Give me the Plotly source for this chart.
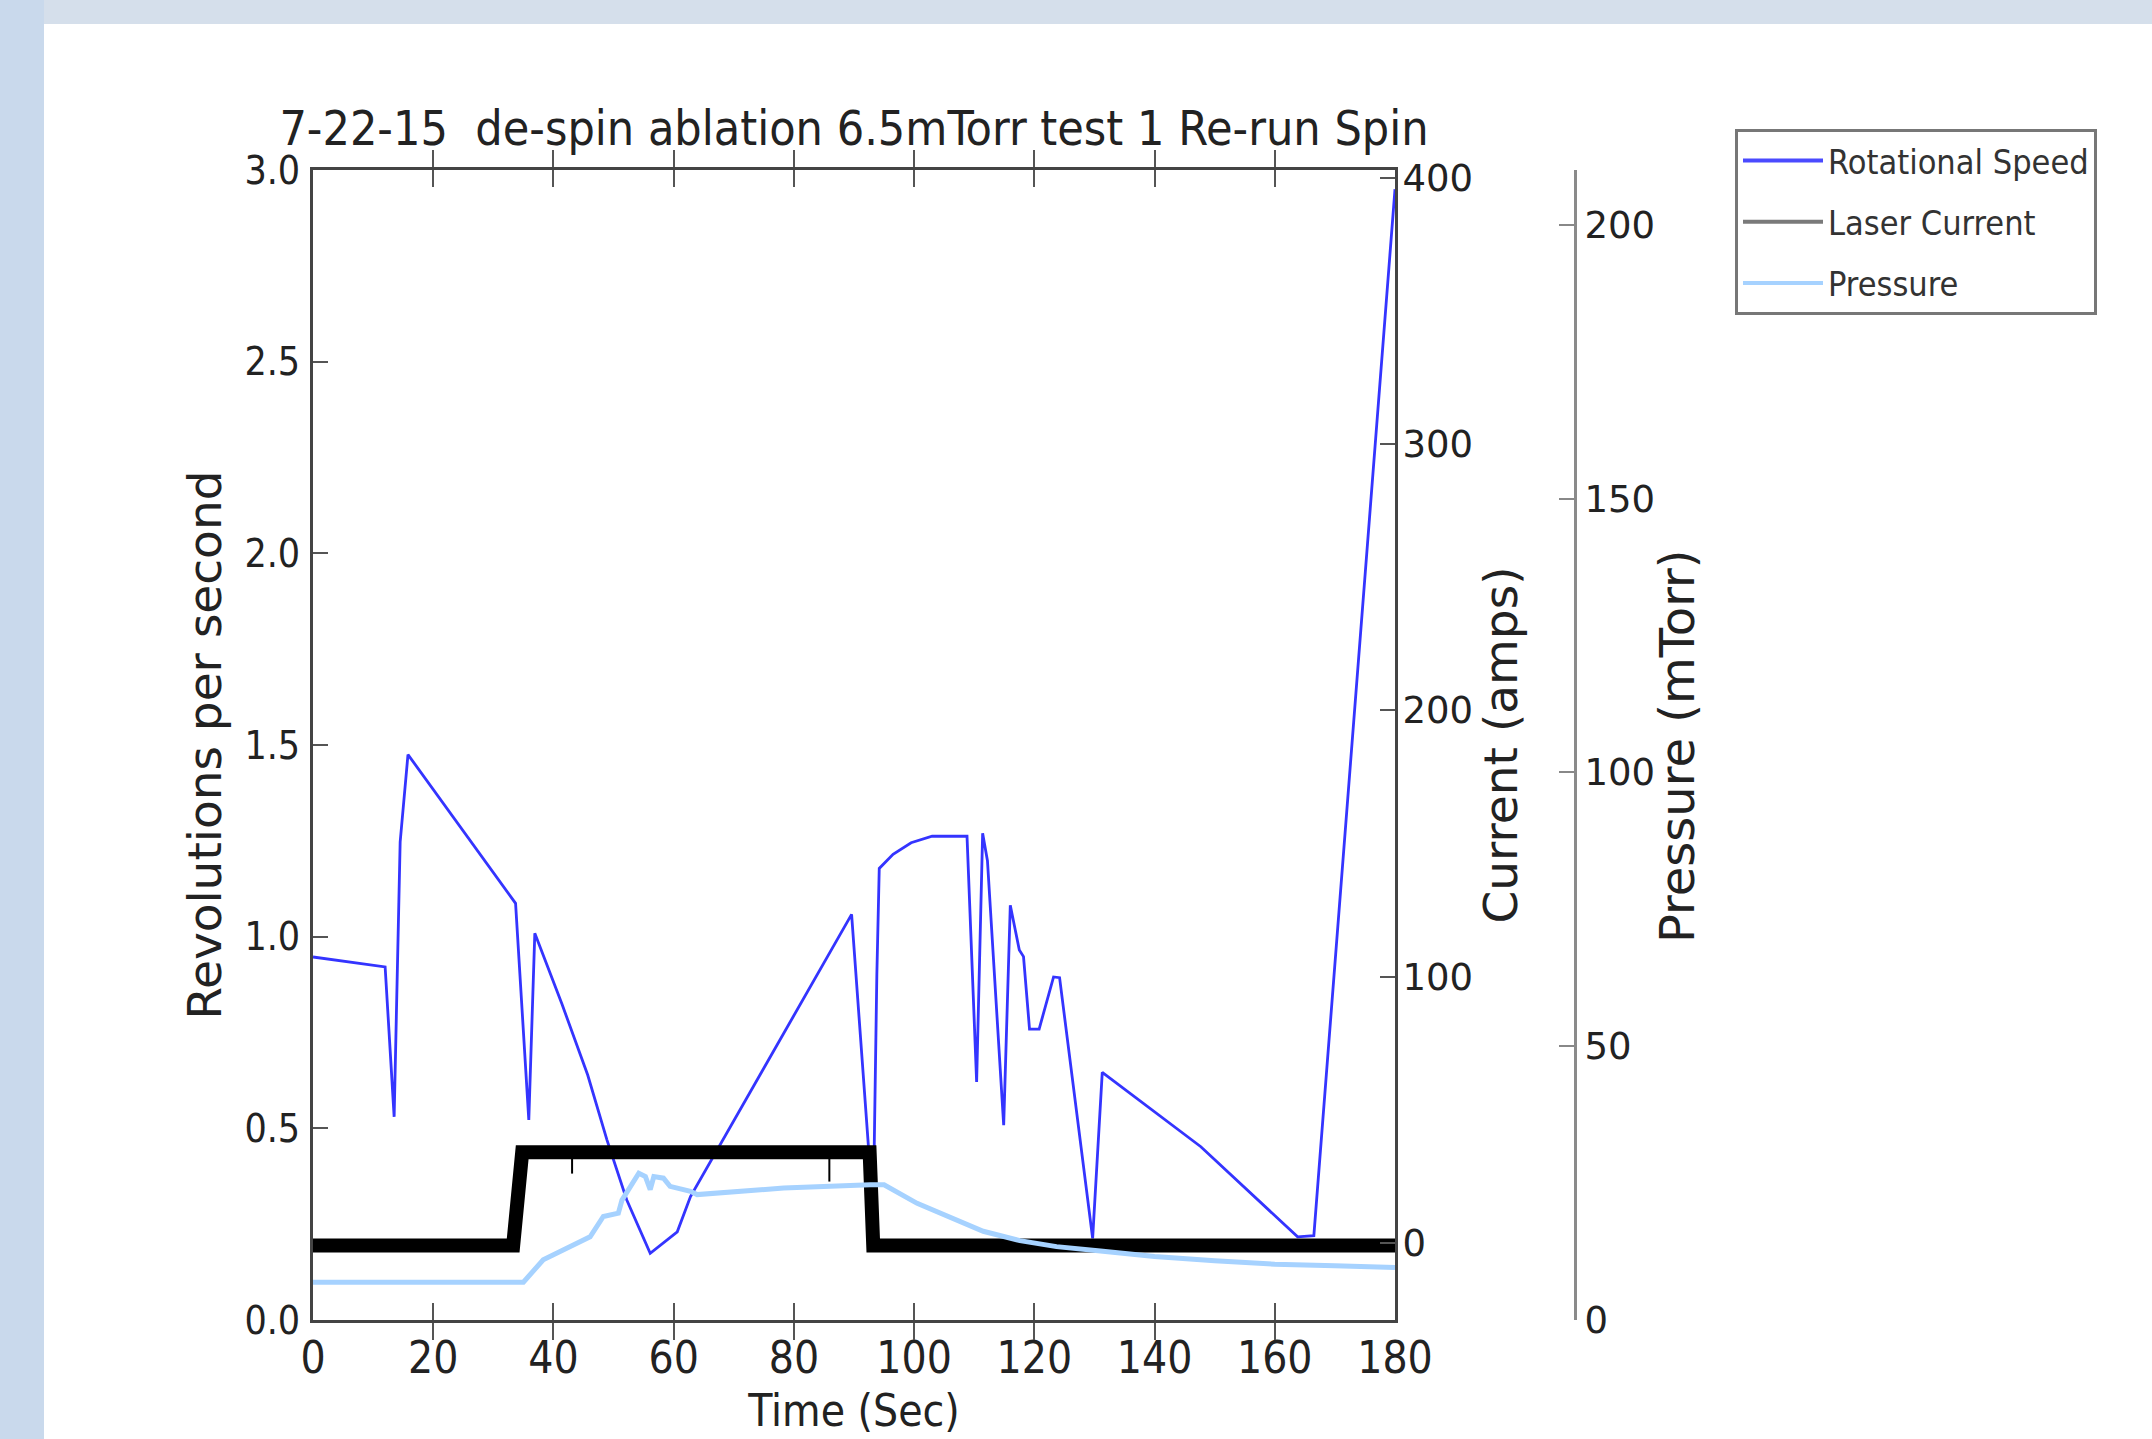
import plotly.graph_objects as go

# ---------------- data ----------------
rot_time = [0.0, 12.0, 13.5, 14.5, 15.8, 33.7, 35.9, 36.9, 41.4, 45.7, 48.9, 52.2, 56.1,
            60.6, 62.8, 89.6, 93.2, 93.8, 94.2, 96.5, 99.5, 103.0, 108.8, 110.4, 111.4,
            112.2, 114.9, 116.0, 117.5, 118.2, 119.2, 120.8, 123.2, 124.2, 129.7, 131.3,
            147.7, 163.8, 166.5, 180.0]
rot_speed = [0.947, 0.921, 0.53, 1.247, 1.475, 1.087, 0.522, 1.009, 0.825, 0.639, 0.47, 0.313, 0.174,
             0.23, 0.322, 1.058, 0.28, 0.9, 1.178, 1.215, 1.245, 1.262, 1.262, 0.621, 1.27,
             1.198, 0.508, 1.082, 0.965, 0.948, 0.759, 0.759, 0.895, 0.893, 0.213, 0.646,
             0.452, 0.217, 0.22, 2.95]

laser_time = [0.0, 33.3, 34.8, 92.6, 93.2, 180.0]
laser_current = [-1, -1, 34, 34, -1, -1]

laser_spike_time = [43.1, 43.1, None, 85.9, 85.9]
laser_spike_current = [34, 26, None, 34, 23]

pres_time = [0, 35.0, 38.3, 41.7, 46.1, 48.3, 50.8, 51.4, 52.8, 54.2, 55.3, 56.1, 56.7, 58.3,
             59.4, 62.8, 63.9, 78.3, 92.7, 95.0, 100.5, 106.1, 111.5, 117.6, 123.7, 131.0,
             140, 150, 160, 170, 180]
pres_mtorr = [6.9, 6.9, 11.0, 12.8, 15.2, 18.9, 19.5, 21.9, 24.4, 26.8, 26.2, 23.8, 26.2, 25.9,
              24.4, 23.5, 22.9, 24.1, 24.7, 24.7, 21.3, 18.6, 16.2, 14.5, 13.4, 12.6,
              11.6, 10.8, 10.2, 9.9, 9.6]

x_ticks = [0, 20, 40, 60, 80, 100, 120, 140, 160, 180]
rev_ticks = [0.0, 0.5, 1.0, 1.5, 2.0, 2.5, 3.0]
cur_ticks = [0, 100, 200, 300, 400]
pres_ticks = [0, 50, 100, 150, 200]

title_text = "7-22-15  de-spin ablation 6.5mTorr test 1 Re-run Spin"

# ---------------- geometry ----------------
W, H = 2152, 1439
L, R_PAPER, T, B = 313, 1750, 170, 1320
PW = R_PAPER - L
PH = B - T

def px(xp):
    return (xp - L) / PW

def py(yp):
    return (B - yp) / PH

BLUE = "#3434ff"
BLACK = "#000000"
LIGHT = "#a6d2ff"
SPINE = "#444444"
TXT = "#222222"

COND = "DejaVu Sans Condensed, DejaVu Sans, sans-serif"
WIDE = "DejaVu Sans, sans-serif"

fig = go.Figure()

fig.add_trace(go.Scatter(x=rot_time, y=rot_speed, mode="lines", name="Rotational Speed",
                         line=dict(color=BLUE, width=2.8), yaxis="y", showlegend=False))
fig.add_trace(go.Scatter(x=laser_time, y=laser_current, mode="lines", name="Laser Current",
                         line=dict(color=BLACK, width=14), yaxis="y2", showlegend=False))
fig.add_trace(go.Scatter(x=laser_spike_time, y=laser_spike_current, mode="lines",
                         line=dict(color=BLACK, width=2), yaxis="y2", showlegend=False,
                         connectgaps=False))
fig.add_trace(go.Scatter(x=pres_time, y=pres_mtorr, mode="lines", name="Pressure",
                         line=dict(color=LIGHT, width=5), yaxis="y3", showlegend=False))

# legend entries (legend swatches as in the reference)
for i, (nm, col) in enumerate([("Rotational Speed", "#4a4aff"), ("Laser Current", "#7a7a7a"),
                               ("Pressure", "#a6d2ff")]):
    fig.add_trace(go.Scatter(x=[None], y=[None], mode="lines", name=nm, legendgroup=f"g{i}",
                             line=dict(color=col, width=4), showlegend=True))

dom_end = px(1395)

fig.update_layout(
    width=W, height=H,
    margin=dict(l=L, r=W - R_PAPER, t=T, b=H - B, pad=0),
    paper_bgcolor="white",
    plot_bgcolor="white",
    showlegend=True,
    title=dict(text=title_text, x=px(854), xref="paper", xanchor="center",
               y=1 - 128 / H, yref="container", yanchor="middle",
               font=dict(family=COND, size=48, color=TXT)),
    xaxis=dict(domain=[0, dom_end], range=[0, 180], tickvals=x_ticks,
               ticks="inside", ticklen=17, tickwidth=2, tickcolor="#555",
               showline=True, linecolor=SPINE, linewidth=3, mirror="allticks",
               showgrid=False, zeroline=False,
               tickfont=dict(family=COND, size=44, color=TXT),
               ticklabelstandoff=-3,
               title=dict(text="Time (Sec)", font=dict(family=COND, size=44, color=TXT), standoff=14)),
    yaxis=dict(range=[0, 3.0], tickvals=rev_ticks, tickformat=".1f",
               ticks="inside", ticklen=15, tickwidth=2, tickcolor="#555",
               showline=True, linecolor=SPINE, linewidth=3,
               showgrid=False, zeroline=False,
               tickfont=dict(family=COND, size=39, color=TXT),
               ticklabelstandoff=2,
               title=dict(text="Revolutions per second", font=dict(family=WIDE, size=47, color=TXT), standoff=8)),
    yaxis2=dict(range=[-29, 403], tickvals=cur_ticks, overlaying="y", side="right", anchor="x",
                ticks="inside", ticklen=15, tickwidth=2, tickcolor="#555",
                showline=True, linecolor=SPINE, linewidth=3,
                showgrid=False, zeroline=False,
                tickfont=dict(family=WIDE, size=37, color=TXT),
                ticklabelstandoff=-3,
                title=dict(text="Current (amps)", font=dict(family=WIDE, size=47, color=TXT), standoff=10)),
    yaxis3=dict(range=[0, 210], tickvals=pres_ticks, overlaying="y", side="right", anchor="free",
                position=px(1575),
                ticks="inside", ticklen=15, tickwidth=2, tickcolor="#888",
                showline=True, linecolor="#8a8a8a", linewidth=3,
                showgrid=False, zeroline=False,
                tickfont=dict(family=WIDE, size=37, color=TXT),
                ticklabelstandoff=0),
    annotations=[
        dict(text="Pressure (mTorr)", textangle=-90, xref="paper", yref="paper",
             x=px(1677), y=py(746), xanchor="center", yanchor="middle", showarrow=False,
             font=dict(family=WIDE, size=48, color=TXT)),
    ],
    legend=dict(x=px(1735), y=py(129), xanchor="left", yanchor="top",
                bgcolor="white", bordercolor="#777777", borderwidth=3,
                font=dict(family=COND, size=34, color="#333"),
                itemwidth=80, tracegroupgap=14, traceorder="grouped"),
    shapes=[
        dict(type="rect", xref="paper", yref="paper", x0=px(0), x1=px(W), y0=py(24), y1=py(0),
             fillcolor="#d5dfeb", line=dict(width=0), layer="below"),
        dict(type="rect", xref="paper", yref="paper", x0=px(0), x1=px(44), y0=py(H), y1=py(0),
             fillcolor="#c9d9ec", line=dict(width=0), layer="below"),
    ],
)

fig.write_html("out.html", config={"displayModeBar": False},
               post_script="document.body.style.margin='0px';document.body.style.overflow='hidden';")
